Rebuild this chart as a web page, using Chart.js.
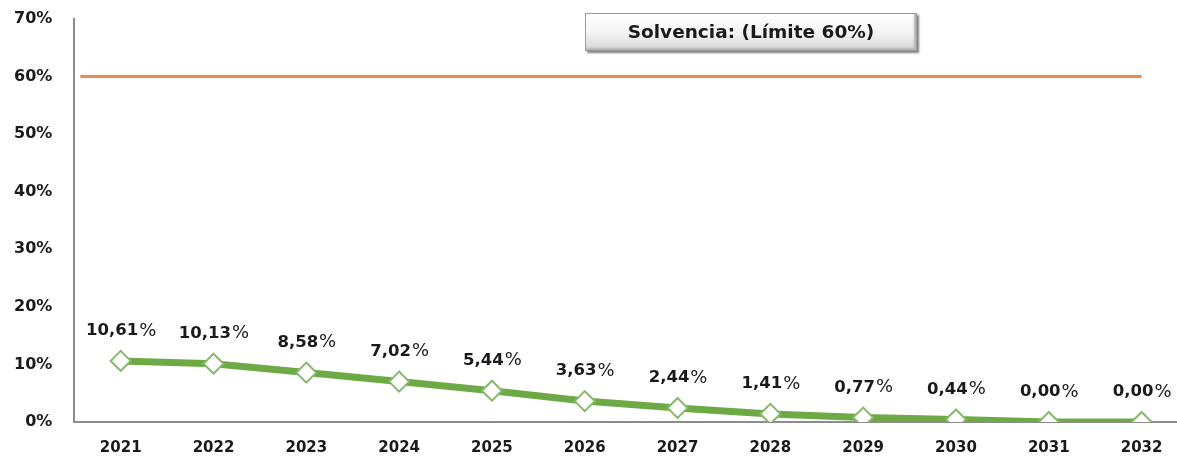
<!DOCTYPE html>
<html>
<head>
<meta charset="utf-8">
<script src="https://cdn.jsdelivr.net/npm/chart.js@4.4.1/dist/chart.umd.min.js"></script>
<style>
  html, body { margin: 0; padding: 0; background: #fff; overflow: hidden; }
  #wrap { position: relative; width: 1200px; height: 459px; }
  #title {
    position: absolute; left: 585px; top: 13px; width: 332px; height: 38px;
    box-sizing: border-box; border: 1px solid #9a9a9a;
    background: linear-gradient(#ffffff, #f3f3f3 55%, #d6d6d6);
    box-shadow: 2px 2px 2px #7f7f7f, inset -2px -2px 2px #b5b5b5;
    font: bold 18.5px "DejaVu Sans", sans-serif; color: #1a1a1a;
    text-align: center; line-height: 36px;
  }
</style>
</head>
<body>
<div id="wrap">
  <canvas id="chart" width="1200" height="459"></canvas>
  <div id="title">Solvencia: (Límite 60%)</div>
</div>
<script>
const years = ['2021', '2022', '2023', '2024', '2025', '2026', '2027', '2028', '2029', '2030', '2031', '2032'];
const solvencia = [10.61, 10.13, 8.58, 7.02, 5.44, 3.63, 2.44, 1.41, 0.77, 0.44, 0.00, 0.00];
const limite = [60, 60, 60, 60, 60, 60, 60, 60, 60, 60, 60, 60];
const yTicks = [0, 10, 20, 30, 40, 50, 60, 70];

// limit line: starts just right of the y axis and runs to the last year
const limitLine = {
  id: 'limitLine',
  beforeDatasetsDraw(chart) {
    const { ctx, scales: { x, y } } = chart;
    ctx.save();
    ctx.strokeStyle = '#EE8A47';
    ctx.lineWidth = 3;
    ctx.beginPath();
    ctx.moveTo(x.left + 6, y.getPixelForValue(limite[0]));
    limite.forEach((v, i) => ctx.lineTo(x.getPixelForValue(i), y.getPixelForValue(v)));
    ctx.stroke();
    ctx.restore();
  }
};

// value labels above each point: number bold, % sign lighter
const valueLabels = {
  id: 'valueLabels',
  afterDatasetsDraw(chart) {
    const ctx = chart.ctx;
    const meta = chart.getDatasetMeta(0);
    const bold = 'bold 16.5px "DejaVu Sans", sans-serif';
    const thin = '18px "DejaVu Sans", sans-serif';
    ctx.save();
    ctx.fillStyle = '#1a1a1a';
    ctx.textBaseline = 'middle';
    ctx.textAlign = 'left';
    meta.data.forEach((pt, i) => {
      const num = solvencia[i].toFixed(2).replace('.', ',');
      ctx.font = bold;
      const w1 = ctx.measureText(num).width;
      ctx.font = thin;
      const w2 = ctx.measureText('%').width;
      const x0 = pt.x - (w1 + w2) / 2;
      const y = pt.y - 30;
      ctx.font = bold;
      ctx.fillText(num, x0, y);
      ctx.font = thin;
      ctx.fillText('%', x0 + w1 + 1, y);
    });
    ctx.restore();
  }
};

new Chart(document.getElementById('chart'), {
  type: 'line',
  data: {
    labels: years,
    datasets: [
      {
        label: 'Solvencia',
        data: solvencia,
        borderColor: '#6DAA45',
        borderWidth: 7,
        pointStyle: 'rectRot',
        pointRadius: 10,
        pointBackgroundColor: '#ffffff',
        pointBorderColor: '#86B86A',
        pointBorderWidth: 2,
        tension: 0,
        fill: false
      }
    ]
  },
  options: {
    responsive: false,
    animation: false,
    layout: { autoPadding: false, padding: { top: 0, left: -8, right: 12, bottom: -15 } },
    plugins: { legend: { display: false }, tooltip: { enabled: false } },
    scales: {
      x: {
        offset: true,
        grid: { display: false, drawTicks: false },
        border: { color: '#8c8c8c', width: 2 },
        ticks: { color: '#1a1a1a', font: { family: '"DejaVu Sans", sans-serif', size: 15, weight: 'bold' }, padding: 17, maxRotation: 0 }
      },
      y: {
        min: 0,
        max: 70,
        afterBuildTicks: (axis) => { axis.ticks = yTicks.map(v => ({ value: v })); },
        afterFit: (axis) => { axis.paddingTop = 19; axis.paddingBottom = 10; },
        grid: { display: false, drawTicks: false },
        border: { color: '#8c8c8c', width: 2 },
        ticks: { color: '#1a1a1a', font: { family: '"DejaVu Sans", sans-serif', size: 16, weight: 'bold' }, padding: 22, callback: v => v + '%' }
      }
    }
  },
  plugins: [limitLine, valueLabels]
});
</script>
</body>
</html>
